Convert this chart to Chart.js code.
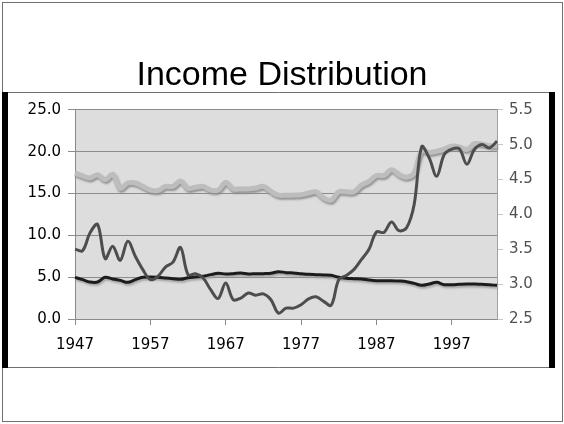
<!DOCTYPE html>
<html>
<head>
<meta charset="utf-8">
<title>Income Distribution</title>
<script src="https://cdn.jsdelivr.net/npm/chart.js@4.4.1/dist/chart.umd.min.js"></script>
<style>
  html, body { margin: 0; padding: 0; background: #fff; }
  #wrap { width: 564px; height: 424px; }
</style>
</head>
<body>
<div id="wrap"><canvas id="chart" width="564" height="424"></canvas></div>
<script>
// --- Data ---
const years = [];
for (let y = 1947; y <= 2003; y++) years.push(String(y));

const leftTicks = [0, 5, 10, 15, 20, 25];
const rightTicks = [2.5, 3.0, 3.5, 4.0, 4.5, 5.0, 5.5];

// light gray, thick (left axis)
const lightSeries = [
  17.45, 17.1, 16.85, 17.25, 16.65, 17.3, 15.6, 16.25, 16.25, 15.85,
  15.4, 15.35, 15.85, 15.85, 16.5, 15.6, 15.75, 15.85, 15.4, 15.4,
  16.3, 15.55, 15.55, 15.55, 15.65, 15.85, 15.25, 14.8, 14.8, 14.8,
  14.85, 15.05, 15.2, 14.45, 14.2, 15.2, 15.2, 15.2, 16.0, 16.45,
  17.15, 17.15, 17.85, 17.25, 16.95, 17.45, 20.1, 19.9, 20.05, 20.3,
  20.65, 20.55, 20.25, 20.95, 20.9, 20.7, 20.7
];

// dark gray, volatile (left axis)
const darkSeries = [
  8.35, 8.15, 10.3, 11.3, 7.2, 8.7, 7.0, 9.3, 7.5, 5.9,
  4.7, 5.1, 6.2, 6.8, 8.55, 5.3, 5.4, 4.9, 3.5, 2.45,
  4.3, 2.3, 2.5, 3.1, 2.85, 3.0, 2.3, 0.7, 1.3, 1.3,
  1.7, 2.4, 2.65, 2.1, 1.65, 4.7, 5.2, 5.9, 7.1, 8.3,
  10.4, 10.35, 11.6, 10.55, 10.9, 13.65, 20.6, 19.25, 17.05, 19.65,
  20.3, 20.35, 18.5, 20.25, 20.85, 20.45, 21.25
];

// black, flat (left axis)
const blackSeries = [
  4.98, 4.7, 4.42, 4.42, 4.98, 4.78, 4.62, 4.38, 4.7, 4.98,
  5.02, 4.98, 4.9, 4.82, 4.74, 4.94, 5.02, 5.1, 5.3, 5.46,
  5.38, 5.42, 5.5, 5.38, 5.42, 5.42, 5.46, 5.66, 5.54, 5.5,
  5.42, 5.34, 5.3, 5.26, 5.22, 4.98, 4.86, 4.82, 4.78, 4.66,
  4.58, 4.58, 4.58, 4.54, 4.46, 4.26, 4.02, 4.18, 4.38, 4.1,
  4.1, 4.14, 4.18, 4.18, 4.14, 4.1, 4.02
];

const FONT = "'DejaVu Sans', Verdana, sans-serif";

// --- Plugins ---
// slide frame + gray plot background
const framePlugin = {
  id: 'frame',
  beforeDraw(chart) {
    const ctx = chart.ctx;
    const a = chart.chartArea;
    ctx.save();
    ctx.fillStyle = '#fff';
    ctx.fillRect(0, 0, chart.width, chart.height);
    ctx.strokeStyle = '#707070';
    ctx.lineWidth = 1;
    ctx.strokeRect(2.5, 2.5, 560, 419);
    ctx.beginPath();
    ctx.moveTo(2, 92.5); ctx.lineTo(555, 92.5);
    ctx.moveTo(2, 367.5); ctx.lineTo(555, 367.5);
    ctx.stroke();
    ctx.fillStyle = '#000';
    ctx.fillRect(2, 92, 6, 276);
    ctx.fillRect(549, 92, 6, 276);
    ctx.fillStyle = '#dddddd';
    ctx.fillRect(a.left, a.top, a.right - a.left, a.bottom - a.top);
    ctx.restore();
  }
};

// Excel-like drop shadow under some lines
const shadowPlugin = {
  id: 'lineShadow',
  beforeDatasetDraw(chart, args) {
    const ds = chart.data.datasets[args.index];
    if (!ds.shadowColor) return;
    const ctx = chart.ctx;
    ctx.save();
    ctx.shadowColor = ds.shadowColor;
    ctx.shadowOffsetY = 2;
    ctx.shadowOffsetX = 1;
    ctx.shadowBlur = 2;
  },
  afterDatasetDraw(chart, args) {
    const ds = chart.data.datasets[args.index];
    if (ds.shadowColor) chart.ctx.restore();
  }
};

new Chart(document.getElementById('chart'), {
  type: 'line',
  data: {
    labels: years,
    datasets: [
      {
        label: 'Dark',
        data: darkSeries,
        yAxisID: 'y',
        borderColor: '#4d4d4d',
        borderWidth: 3,
        tension: 0.35,
        pointRadius: 0
      },
      {
        label: 'Black',
        data: blackSeries,
        yAxisID: 'y',
        borderColor: '#1c1c1c',
        borderWidth: 3,
        tension: 0.35,
        pointRadius: 0,
        shadowColor: 'rgba(160,160,160,0.9)'
      },
      {
        label: 'Light',
        data: lightSeries,
        yAxisID: 'y',
        borderColor: '#bdbdbd',
        borderWidth: 5,
        tension: 0.35,
        pointRadius: 0,
        shadowColor: 'rgba(140,140,140,0.9)'
      }
    ]
  },
  options: {
    responsive: false,
    animation: false,
    layout: { padding: { left: 0, right: 0, top: 0, bottom: 0 } },
    plugins: {
      legend: { display: false },
      tooltip: { enabled: false },
      title: {
        display: true,
        text: 'Income Distribution',
        color: '#000',
        font: { family: "'Liberation Sans', Arial, sans-serif", size: 34, weight: 'normal' },
        padding: { top: 55, bottom: 14 }
      }
    },
    scales: {
      x: {
        type: 'category',
        offset: false,
        afterBuildTicks: (scale) => {
          scale.ticks = scale.ticks.filter(t => t.value % 10 === 0);
        },
        afterFit: (scale) => { scale.height = 105; },
        ticks: {
          autoSkip: false,
          maxRotation: 0,
          color: '#000',
          font: { family: FONT, size: 15 },
          padding: 11
        },
        grid: { drawOnChartArea: false, color: '#888', tickLength: 6 },
        border: { display: true, color: '#8a8a8a' }
      },
      y: {
        position: 'left',
        min: 0,
        max: 25,
        afterBuildTicks: (scale) => { scale.ticks = leftTicks.map(v => ({ value: v })); },
        afterFit: (scale) => { scale.width = 75; },
        ticks: {
          color: '#000',
          font: { family: FONT, size: 15 },
          padding: 7,
          callback: v => v.toFixed(1)
        },
        grid: { color: '#8c8c8c', tickLength: 7 },
        border: { display: true, color: '#8a8a8a' }
      },
      y2: {
        position: 'right',
        min: 2.5,
        max: 5.5,
        afterBuildTicks: (scale) => { scale.ticks = rightTicks.map(v => ({ value: v })); },
        afterFit: (scale) => { scale.width = 67; },
        ticks: {
          color: '#505050',
          font: { family: FONT, size: 15 },
          padding: 6,
          callback: v => v.toFixed(1)
        },
        grid: { drawOnChartArea: false, color: '#c8c8c8', tickLength: 6 },
        border: { display: true, color: '#a0a0a0' }
      }
    }
  },
  plugins: [framePlugin, shadowPlugin]
});
</script>
</body>
</html>
